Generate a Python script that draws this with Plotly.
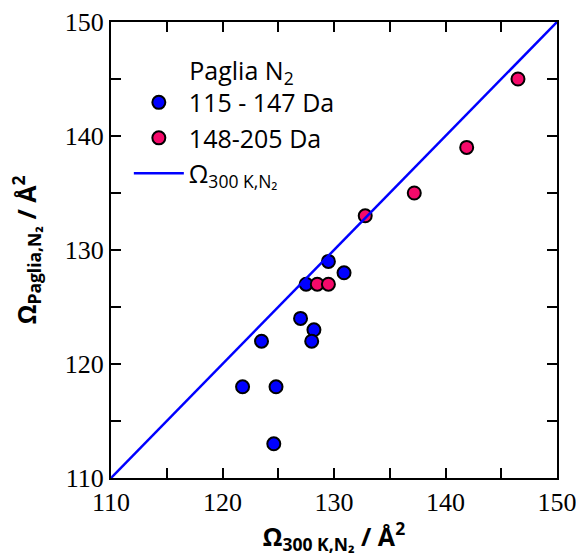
import plotly.graph_objects as go

# Collision cross sections (Å²): 300 K N2 values vs. Paglia N2 values
light_x = [121.8, 123.5, 124.8, 124.6, 127.0, 128.2, 128.0, 127.5, 129.5, 130.9]
light_y = [118, 122, 118, 113, 124, 123, 122, 127, 129, 128]
heavy_x = [128.5, 129.5, 132.8, 137.2, 141.9, 146.5]
heavy_y = [127, 127, 133, 135, 139, 145]
parity = [110, 150]

tick_vals = [110, 120, 130, 140, 150]
tick_text = ["110", "120", "130", "140", "150"]

FONT = "Open Sans"
TICK_FONT = "Liberation Sans Narrow"
BLUE = "#0000ff"
PINK = "#f50a6a"

fig = go.Figure()
fig.add_trace(go.Scatter(
    x=light_x, y=light_y, mode="markers", name="115 - 147 Da",
    marker=dict(size=13, color=BLUE, line=dict(color="black", width=2)),
))
fig.add_trace(go.Scatter(
    x=heavy_x, y=heavy_y, mode="markers", name="148-205 Da",
    marker=dict(size=13, color=PINK, line=dict(color="black", width=2)),
))
fig.add_trace(go.Scatter(
    x=parity, y=parity, mode="lines", name="Ω<sub>300 K,N₂</sub>",
    line=dict(color=BLUE, width=2.5),
))

axis_common = dict(
    range=[110, 150], tickmode="array", tickvals=tick_vals, ticktext=tick_text,
    ticks="inside", ticklen=10, tickwidth=1.5, tickcolor="black",
    minor=dict(dtick=5, tick0=110, ticks="inside", ticklen=10, tickwidth=1.5, tickcolor="black"),
    showline=True, linecolor="black", linewidth=2, mirror="allticks",
    showgrid=False, zeroline=False, automargin=False,
    ticklabeloverflow="allow",
    tickfont=dict(family=TICK_FONT, size=26, color="black"),
)

fig.update_xaxes(
    **axis_common,
    title=dict(text="<b>Ω<sub>300 K,N₂</sub> / Å<sup>2</sup></b>",
               font=dict(family=FONT, size=25, color="black"), standoff=6),
)
fig.update_yaxes(**axis_common)

fig.add_annotation(
    text="<b>Ω<sub>Paglia,N₂</sub> / Å<sup>2</sup></b>",
    xref="paper", yref="paper", x=-0.19, y=0.5,
    xanchor="center", yanchor="middle", textangle=-90,
    showarrow=False, font=dict(family=FONT, size=25, color="black"),
)

fig.update_layout(
    width=576, height=556,
    margin=dict(l=111, r=19, t=22, b=78),
    paper_bgcolor="white", plot_bgcolor="white",
    showlegend=True,
    legend=dict(
        title=dict(text="\u00a0\u00a0\u00a0\u00a0\u00a0\u00a0\u00a0\u00a0\u00a0Paglia N<sub>2</sub>",
                   font=dict(family=FONT, size=25, color="black")),
        x=0.04, y=0.945, xanchor="left", yanchor="top",
        bgcolor="rgba(0,0,0,0)", borderwidth=0,
        font=dict(family=FONT, size=25, color="black"),
        itemwidth=50,
    ),
)

fig.write_html("out.html")
